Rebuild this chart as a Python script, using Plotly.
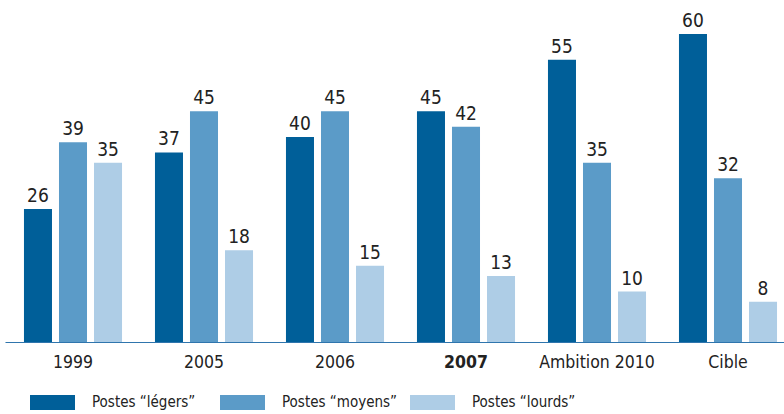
import plotly.graph_objects as go

# Categories and series values
categories = ["1999", "2005", "2006", "<b>2007</b>", "Ambition 2010", "Cible"]
legers = [26, 37, 40, 45, 55, 60]
moyens = [39, 45, 45, 42, 35, 32]
lourds = [35, 18, 15, 13, 10, 8]
series_names = ["Postes “légers”", "Postes “moyens”", "Postes “lourds”"]
colors = ["#005f99", "#5b9bc8", "#aecde6"]

FONT = "DejaVu Sans Condensed, Liberation Sans Narrow, sans-serif"

fig = go.Figure()
for name, vals, col in zip(series_names, [legers, moyens, lourds], colors):
    fig.add_trace(go.Bar(
        x=list(range(len(categories))), y=vals, name=name,
        marker=dict(color=col, line=dict(width=0)),
        text=[str(v) for v in vals], textposition="outside",
        textfont=dict(family=FONT, size=19, color="#222222"),
        cliponaxis=False, showlegend=False,
    ))

# Baseline along the category axis
fig.add_shape(type="line", xref="paper", yref="y", x0=0.007, x1=1, y0=0, y1=0,
              line=dict(color="#2f75ad", width=2))

# Legend drawn as wide swatches with labels below the axis
legend_x = [30, 220, 410]
for name, col, lx in zip(series_names, colors, legend_x):
    fig.add_shape(type="rect", xref="paper", yref="paper",
                  x0=lx / 784, x1=(lx + 45) / 784,
                  y0=-(395 - 343) / 343, y1=-(410 - 343) / 343,
                  line=dict(width=0), fillcolor=col)
    fig.add_annotation(xref="paper", yref="paper", x=(lx + 60) / 784,
                       y=-(402 - 343) / 343, text=name, showarrow=False,
                       xanchor="left", yanchor="middle",
                       font=dict(family=FONT, size=15, color="#222222"))

fig.update_layout(
    width=784, height=414,
    margin=dict(l=0, r=0, t=0, b=71),
    paper_bgcolor="white", plot_bgcolor="white",
    barmode="group", bargap=0.198, bargroupgap=0.2,
    xaxis=dict(
        tickmode="array", tickvals=list(range(len(categories))), ticktext=categories,
        range=[-73 / 131, (784 - 73) / 131],
        showgrid=False, zeroline=False, showline=False, ticks="",
        ticklabelstandoff=6,
        tickfont=dict(family=FONT, size=17.5, color="#222222"),
    ),
    yaxis=dict(range=[0, 343 / 5.15], visible=False, showgrid=False, zeroline=False),
)

fig.write_html("out.html")
